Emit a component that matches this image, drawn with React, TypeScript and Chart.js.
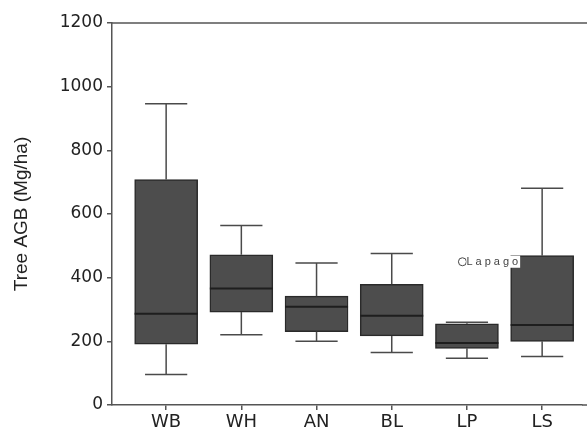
import React, { useEffect, useRef } from "react";
import { Chart, registerables } from "chart.js";

Chart.register(...registerables);

const categories = ["WB", "WH", "AN", "BL", "LP", "LS"];
const whiskerLow = [96, 221, 200, 165, 147, 152];
const q1 = [191, 292, 230, 217, 178, 200];
const medians = [287, 366, 309, 280, 195, 251];
const q3 = [708, 472, 342, 379, 255, 469];
const whiskerHigh = [946, 564, 446, 476, 260, 681];
const outlierPositions = [5];
const outlierValues = [450];
const outlierLabels = ["Lapago"];
const yTickValues = [0, 200, 400, 600, 800, 1000, 1200];
const yTitle = "Tree AGB (Mg/ha)";

const AXIS = "#555555";
const TEXT = "#222222";

const boxExtras = {
  id: "boxExtras",
  afterDatasetsDraw(chart: any) {
    const { ctx, chartArea, scales, width } = chart;
    const xs = scales.x;
    const ys = scales.y;
    ctx.save();
    ctx.strokeStyle = AXIS;
    ctx.lineWidth = 1.5;
    const yTop = ys.getPixelForValue(yTickValues[yTickValues.length - 1]);
    const yBottom = ys.getPixelForValue(yTickValues[0]);
    ctx.beginPath();
    ctx.moveTo(chartArea.left, yTop);
    ctx.lineTo(width, yTop);
    ctx.moveTo(chartArea.right, yBottom);
    ctx.lineTo(width, yBottom);
    ctx.stroke();

    const meta = chart.getDatasetMeta(0);
    categories.forEach((_, i) => {
      const x = xs.getPixelForValue(i + 1);
      const bar = meta.data[i];
      const half = bar ? bar.width / 2 : 31;
      const cap = half * 0.67;
      const yLo = ys.getPixelForValue(whiskerLow[i]);
      const yQ1 = ys.getPixelForValue(q1[i]);
      const yQ3 = ys.getPixelForValue(q3[i]);
      const yHi = ys.getPixelForValue(whiskerHigh[i]);
      const yMed = ys.getPixelForValue(medians[i]);
      ctx.strokeStyle = "#4a4a4a";
      ctx.lineWidth = 1.5;
      ctx.beginPath();
      ctx.moveTo(x, yQ3);
      ctx.lineTo(x, yHi);
      ctx.moveTo(x - cap, yHi);
      ctx.lineTo(x + cap, yHi);
      ctx.moveTo(x, yQ1);
      ctx.lineTo(x, yLo);
      ctx.moveTo(x - cap, yLo);
      ctx.lineTo(x + cap, yLo);
      ctx.stroke();
      ctx.strokeStyle = "#1e1e1e";
      ctx.lineWidth = 2;
      ctx.beginPath();
      ctx.moveTo(x - half, yMed);
      ctx.lineTo(x + half, yMed);
      ctx.stroke();
    });

    ctx.font = "11px 'Liberation Sans'";
    ctx.textBaseline = "middle";
    ctx.textAlign = "left";
    outlierPositions.forEach((p, i) => {
      const x = xs.getPixelForValue(p - 0.06);
      const y = ys.getPixelForValue(outlierValues[i]);
      const label = outlierLabels[i];
      const spacing = 3;
      let total = 0;
      for (const ch of label) total += ctx.measureText(ch).width + spacing;
      ctx.fillStyle = "#ffffff";
      ctx.fillRect(x + 4, y - 6, total - spacing + 2, 12);
      ctx.fillStyle = "#444444";
      let cx = x + 4;
      for (const ch of label) {
        ctx.fillText(ch, cx, y);
        cx += ctx.measureText(ch).width + spacing;
      }
    });
    ctx.restore();
  },
};

export default function App() {
  const ref = useRef<HTMLCanvasElement>(null);
  useEffect(() => {
    if (!ref.current) return;
    const chart = new Chart(ref.current, {
      type: "bar",
      data: {
        datasets: [
          {
            type: "bar",
            data: categories.map((_, i) => ({ x: i + 1, y: [q1[i], q3[i]] })) as any,
            backgroundColor: "#4d4d4d",
            borderColor: "#2a2a2a",
            borderWidth: 1.5,
            borderSkipped: false,
            barThickness: 63,
          },
          {
            type: "scatter",
            data: outlierPositions.map((p, i) => ({ x: p - 0.06, y: outlierValues[i] })),
            pointRadius: 4,
            pointBorderColor: "#444444",
            pointBackgroundColor: "rgba(255,255,255,0)",
            pointBorderWidth: 1,
          } as any,
        ],
      },
      options: {
        animation: false,
        responsive: false,
        events: [],
        layout: { padding: { top: 23, right: 0, left: 0, bottom: 0 } },
        plugins: { legend: { display: false }, tooltip: { enabled: false } },
        scales: {
          x: {
            type: "linear",
            min: 0.28,
            max: 6.53,
            offset: false,
            afterBuildTicks: (s: any) => {
              s.ticks = categories.map((_, i) => ({ value: i + 1 }));
            },
            afterFit: (s: any) => {
              s.height = 29;
            },
            ticks: {
              autoSkip: false,
              maxRotation: 0,
              padding: 2,
              color: TEXT,
              font: { family: "'DejaVu Sans'", size: 18 },
              callback: (v: any) => categories[Math.round(v) - 1] ?? "",
            },
            grid: { offset: false, drawOnChartArea: false, drawTicks: true, tickLength: 5, color: AXIS, lineWidth: 1.5 },
            border: { color: AXIS, width: 1.5 },
          },
          y: {
            type: "linear",
            min: 0,
            max: 1200,
            afterBuildTicks: (s: any) => {
              s.ticks = yTickValues.map((v) => ({ value: v }));
            },
            afterFit: (s: any) => {
              s.width = 112;
            },
            ticks: {
              padding: 4,
              color: TEXT,
              font: { family: "'DejaVu Sans'", size: 17 },
              callback: (v: any) => String(v),
            },
            title: {
              display: true,
              text: yTitle,
              color: TEXT,
              font: { family: "'Liberation Sans'", size: 19 },
              padding: { top: 10, bottom: 0 },
            },
            grid: { drawOnChartArea: false, drawTicks: true, tickLength: 5, color: AXIS, lineWidth: 1.5 },
            border: { color: AXIS, width: 1.5 },
          },
        },
      },
      plugins: [boxExtras],
    });
    return () => chart.destroy();
  }, []);
  return (
    <canvas
      ref={ref}
      width={587}
      height={434}
      style={{ position: "absolute", left: 0, top: 0, display: "block", background: "#fff" }}
    />
  );
}
